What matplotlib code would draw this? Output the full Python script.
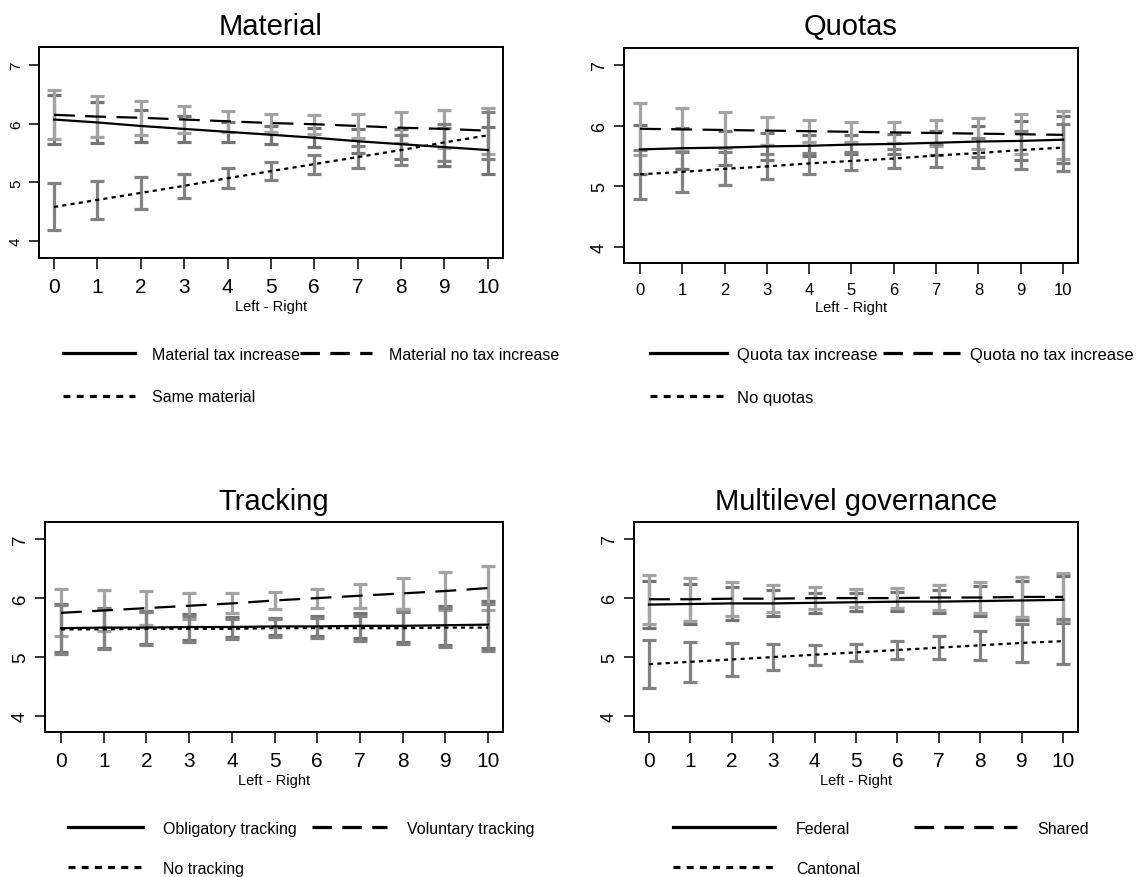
import matplotlib
matplotlib.use('Agg')
import matplotlib.pyplot as plt
from matplotlib.lines import Line2D

plt.rcParams['font.family'] = ['Liberation Sans', 'DejaVu Sans']
plt.rcParams['lines.scale_dashes'] = False

W, H = 1137, 878

# ---------------- data ----------------
left_right = [0, 1, 2, 3, 4, 5, 6, 7, 8, 9, 10]

# Material
mat_tax = [6.07, 6.02, 5.96, 5.91, 5.86, 5.81, 5.76, 5.70, 5.65, 5.60, 5.55]
mat_tax_ci = [0.42, 0.35, 0.28, 0.22, 0.17, 0.15, 0.16, 0.20, 0.25, 0.32, 0.40]
mat_notax = [6.15, 6.12, 6.10, 6.07, 6.04, 6.01, 5.99, 5.96, 5.93, 5.91, 5.88]
mat_notax_ci = [0.42, 0.35, 0.29, 0.23, 0.18, 0.15, 0.16, 0.20, 0.26, 0.32, 0.39]
mat_same = [4.58, 4.70, 4.82, 4.94, 5.07, 5.19, 5.31, 5.43, 5.55, 5.68, 5.80]
mat_same_ci = [0.40, 0.33, 0.27, 0.21, 0.17, 0.15, 0.16, 0.19, 0.25, 0.32, 0.40]

# Quotas
q_tax = [5.61, 5.63, 5.64, 5.66, 5.67, 5.69, 5.70, 5.72, 5.74, 5.75, 5.77]
q_tax_ci = [0.41, 0.34, 0.28, 0.22, 0.17, 0.15, 0.16, 0.20, 0.25, 0.32, 0.39]
q_notax = [5.95, 5.94, 5.93, 5.92, 5.91, 5.90, 5.89, 5.88, 5.87, 5.86, 5.85]
q_notax_ci = [0.43, 0.36, 0.30, 0.23, 0.18, 0.16, 0.17, 0.21, 0.25, 0.33, 0.40]
q_none = [5.20, 5.24, 5.29, 5.33, 5.38, 5.42, 5.46, 5.51, 5.55, 5.60, 5.64]
q_none_ci = [0.40, 0.33, 0.27, 0.21, 0.17, 0.15, 0.15, 0.19, 0.24, 0.31, 0.39]

# Tracking
t_oblig = [5.49, 5.50, 5.50, 5.51, 5.51, 5.52, 5.52, 5.53, 5.53, 5.54, 5.55]
t_oblig_ci = [0.41, 0.34, 0.28, 0.22, 0.17, 0.15, 0.17, 0.21, 0.27, 0.33, 0.40]
t_vol = [5.75, 5.79, 5.83, 5.87, 5.91, 5.96, 6.00, 6.04, 6.08, 6.12, 6.17]
t_vol_ci = [0.40, 0.34, 0.29, 0.22, 0.17, 0.15, 0.16, 0.20, 0.26, 0.33, 0.38]
t_none = [5.47, 5.47, 5.48, 5.48, 5.48, 5.49, 5.49, 5.49, 5.49, 5.50, 5.50]
t_none_ci = [0.41, 0.34, 0.28, 0.22, 0.17, 0.15, 0.17, 0.21, 0.27, 0.33, 0.40]

# Multilevel governance
m_fed = [5.89, 5.90, 5.91, 5.91, 5.92, 5.93, 5.94, 5.94, 5.95, 5.96, 5.97]
m_fed_ci = [0.40, 0.34, 0.28, 0.22, 0.17, 0.15, 0.16, 0.20, 0.26, 0.33, 0.40]
m_shared = [5.98, 5.98, 5.99, 5.99, 6.00, 6.00, 6.00, 6.01, 6.01, 6.02, 6.02]
m_shared_ci = [0.42, 0.36, 0.29, 0.23, 0.18, 0.15, 0.17, 0.21, 0.27, 0.34, 0.40]
m_cant = [4.88, 4.92, 4.96, 5.00, 5.04, 5.08, 5.12, 5.16, 5.20, 5.24, 5.27]
m_cant_ci = [0.41, 0.34, 0.28, 0.22, 0.17, 0.15, 0.16, 0.20, 0.25, 0.32, 0.38]

titles = ['Material', 'Quotas', 'Tracking', 'Multilevel governance']
labels = [
    ['Material tax increase', 'Material no tax increase', 'Same material'],
    ['Quota tax increase', 'Quota no tax increase', 'No quotas'],
    ['Obligatory tracking', 'Voluntary tracking', 'No tracking'],
    ['Federal', 'Shared', 'Cantonal'],
]
values = [
    [(mat_tax, mat_tax_ci), (mat_notax, mat_notax_ci), (mat_same, mat_same_ci)],
    [(q_tax, q_tax_ci), (q_notax, q_notax_ci), (q_none, q_none_ci)],
    [(t_oblig, t_oblig_ci), (t_vol, t_vol_ci), (t_none, t_none_ci)],
    [(m_fed, m_fed_ci), (m_shared, m_shared_ci), (m_cant, m_cant_ci)],
]
y_ticks = [4, 5, 6, 7]

# ---------------- styling ----------------
line_styles = ['-', (0, (15, 7.5)), (0, (3, 3))]
leg_styles = ['-', (0, (14, 7.5)), (0, (5, 4.5))]
bar_colors = ['#747474', '#a3a3a3', '#828282']

# pixel boxes: left, top, right, bottom
boxes = [(39, 48, 503, 259), (624, 49, 1078, 264), (45, 523, 503, 733), (634, 523, 1078, 733)]
xlims = [(-0.346, 10.35), (-0.378, 10.355), (-0.375, 10.35), (-0.362, 10.36)]
ylims = [(3.71, 7.306), (3.74, 7.28), (3.73, 7.29), (3.73, 7.29)]
xtick_sizes = [15, 12, 15, 15]
ytick_sizes = [11, 13, 13.5, 13]
title_y = [27, 27, 502, 502]
legends = [
    dict(x=63, y=355, hl=4.5, htp=1.06, cs=0.0, fs=11.5, ls=1.72),
    dict(x=650, y=355, hl=4.6, htp=0.6, cs=0.36, fs=12, ls=1.65),
    dict(x=68, y=829, hl=4.7, htp=1.25, cs=0.94, fs=11.5, ls=1.55),
    dict(x=673, y=829, hl=6.4, htp=1.3, cs=3.4, fs=11.5, ls=1.55),
]

fig = plt.figure(figsize=(W / 100, H / 100), dpi=100)

for i in range(4):
    l, t, r, b = boxes[i]
    ax = fig.add_axes([l / W, 1 - b / H, (r - l) / W, (b - t) / H])
    for j, (vals, ci) in enumerate(values[i]):
        ax.errorbar(left_right, vals, yerr=ci, fmt='none', ecolor=bar_colors[j],
                    elinewidth=2.3, capsize=4.8, capthick=2.3, zorder=2)
    for j, (vals, ci) in enumerate(values[i]):
        ax.plot(left_right, vals, color='black', lw=1.6, linestyle=line_styles[j], zorder=3)
    ax.set_xlim(*xlims[i])
    ax.set_ylim(*ylims[i])
    ax.set_xticks(left_right)
    ax.set_yticks(y_ticks)
    for s in ax.spines.values():
        s.set_linewidth(1.4)
    ax.tick_params(axis='x', length=8, width=1.1, labelsize=xtick_sizes[i], pad=6)
    ax.tick_params(axis='y', length=7.5, width=1.1, labelsize=ytick_sizes[i], pad=4)
    for lab in ax.get_yticklabels():
        lab.set_rotation(90)
        lab.set_va('center')
    ax.set_xlabel('Left - Right', fontsize=10.5, labelpad=2)
    fig.text(((l + r) / 2) / W, 1 - title_y[i] / H, titles[i], ha='center', va='center', fontsize=21)

    hs = [Line2D([], [], color='black', lw=2.3, linestyle=leg_styles[j]) for j in range(3)]
    order = [0, 2, 1]
    lg = legends[i]
    fig.legend([hs[k] for k in order], [labels[i][k] for k in order],
               loc='upper left', bbox_to_anchor=(lg['x'] / W, 1 - (lg['y'] - 7) / H),
               bbox_transform=fig.transFigure, ncol=2, frameon=False, fontsize=lg['fs'],
               borderpad=0, borderaxespad=0, handlelength=lg['hl'],
               handletextpad=lg['htp'], columnspacing=lg['cs'], labelspacing=lg['ls'])

fig.savefig('out.png', dpi=100)
